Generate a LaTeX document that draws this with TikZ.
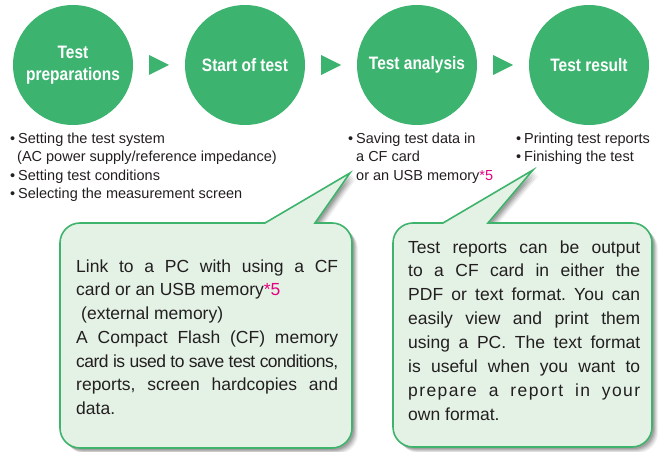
\documentclass[tikz,border=0pt]{standalone}
\usepackage{fontspec}
\setmainfont{Liberation Sans}
\newfontfamily\circfont[FakeStretch=0.86]{Liberation Sans}
\usetikzlibrary{calc}
\definecolor{cgreen}{HTML}{3DB370}
\definecolor{bfill}{HTML}{E4F2E6}
\definecolor{bline}{HTML}{3DB36B}
\definecolor{pinkc}{HTML}{E4007F}
\definecolor{txt}{HTML}{231F20}
\newcommand\lcallout{(265,-223) -- (350,-173) -- (315,-223) -- (332,-223) arc[start angle=90,end angle=0,radius=20] -- (352,-428) arc[start angle=0,end angle=-90,radius=20] -- (80,-448) arc[start angle=270,end angle=180,radius=20] -- (60,-243) arc[start angle=180,end angle=90,radius=20] -- cycle}
\newcommand\rcallout{(443,-223) -- (533,-170) -- (488,-223) -- (632,-223) arc[start angle=90,end angle=0,radius=20] -- (652,-427) arc[start angle=0,end angle=-90,radius=20] -- (413,-447) arc[start angle=270,end angle=180,radius=20] -- (393,-243) arc[start angle=180,end angle=90,radius=20] -- cycle}
\newcommand\bul{\makebox[0pt][r]{\textbullet\hspace{3pt}}}
\newcommand\fivemark{\textcolor{pinkc}{*5}}
\frenchspacing
\begin{document}
\begin{tikzpicture}[x=1pt,y=1pt,
  circ/.style={circle,fill=cgreen,minimum size=120pt,inner sep=0pt,text=white,align=center,
    font=\circfont\bfseries\fontsize{18}{22}\selectfont},
  arrowtri/.style={fill=cgreen},
  bultext/.style={anchor=base west,inner sep=0pt,text=txt},
  boxtext/.style={anchor=base west,inner sep=0pt,text=txt},
  callout/.style={fill=bfill,draw=bline,line width=1.6pt,line join=miter}]
\useasboundingbox (0,0) rectangle (665,-452);
% circles
\node[circ] (c1) at (73,-65) {Test\\preparations};
\node[circ] (c2) at (245,-65) {Start of test};
\node[circ] (c3) at (417,-65) {Test analysis};
\node[circ] (c4) at (589,-65) {Test result};
% arrows
\fill[arrowtri] (149,-55) -- (169,-65) -- (149,-75) -- cycle;
\fill[arrowtri] (321,-55) -- (341,-65) -- (321,-75) -- cycle;
\fill[arrowtri] (493,-55) -- (513,-65) -- (493,-75) -- cycle;
% bullet lists
\node[bultext] (l1) at (18,-143) {\parbox[t]{300pt}{\fontsize{14.5}{18.5}\selectfont\frenchspacing
\bul Setting the test system\\
\hspace*{-1pt}(AC power supply/reference impedance)\\
\bul Setting test conditions\\
\bul Selecting the measurement screen}};
\node[bultext] (l3) at (356,-143) {\parbox[t]{160pt}{\fontsize{14.5}{18.5}\selectfont
\bul Saving test data in\\
a CF card\\
or an USB memory\fivemark}};
\node[bultext] (l4) at (524,-143) {\parbox[t]{140pt}{\fontsize{14.5}{18.5}\selectfont
\bul Printing test reports\\
\bul Finishing the test}};
% callouts shadows
\foreach \s/\o in {6/0.05,5/0.07,4/0.09,3/0.11,2/0.12}{
  \fill[black,opacity=\o,xshift=\s pt,yshift=-\s pt] \lcallout;
  \fill[black,opacity=\o,xshift=\s pt,yshift=-\s pt] \rcallout;
}
\draw[callout] \lcallout;
\draw[callout] \rcallout;
% callout texts
\node[boxtext] (t1) at (76,-272) {\parbox[t]{262pt}{\fontsize{17.5}{23.8}\selectfont\frenchspacing
\makebox[262pt][s]{Link to a PC with using a CF}\\
card or an USB memory\fivemark\\
\hspace*{5pt}(external memory)\\
\makebox[262pt][s]{A Compact Flash (CF) memory}\\
\makebox[262pt][s]{\addfontfeature{LetterSpace=-3}card is used to save test conditions,}\\
\makebox[262pt][s]{reports, screen hardcopies and}\\
data.}};
\node[boxtext] (t2) at (408,-253) {\parbox[t]{232pt}{\fontsize{17.5}{23.9}\selectfont\frenchspacing
\makebox[232pt][s]{Test reports can be output}\\
\makebox[232pt][s]{to a CF card in either the}\\
\makebox[232pt][s]{PDF or text format. You can}\\
\makebox[232pt][s]{easily view and print them}\\
\makebox[232pt][s]{using a PC. The text format}\\
\makebox[232pt][s]{is useful when you want to}\\
\makebox[232pt][s]{\addfontfeature{LetterSpace=8}prepare a report in your}\\
own format.}};
\end{tikzpicture}
\end{document}
